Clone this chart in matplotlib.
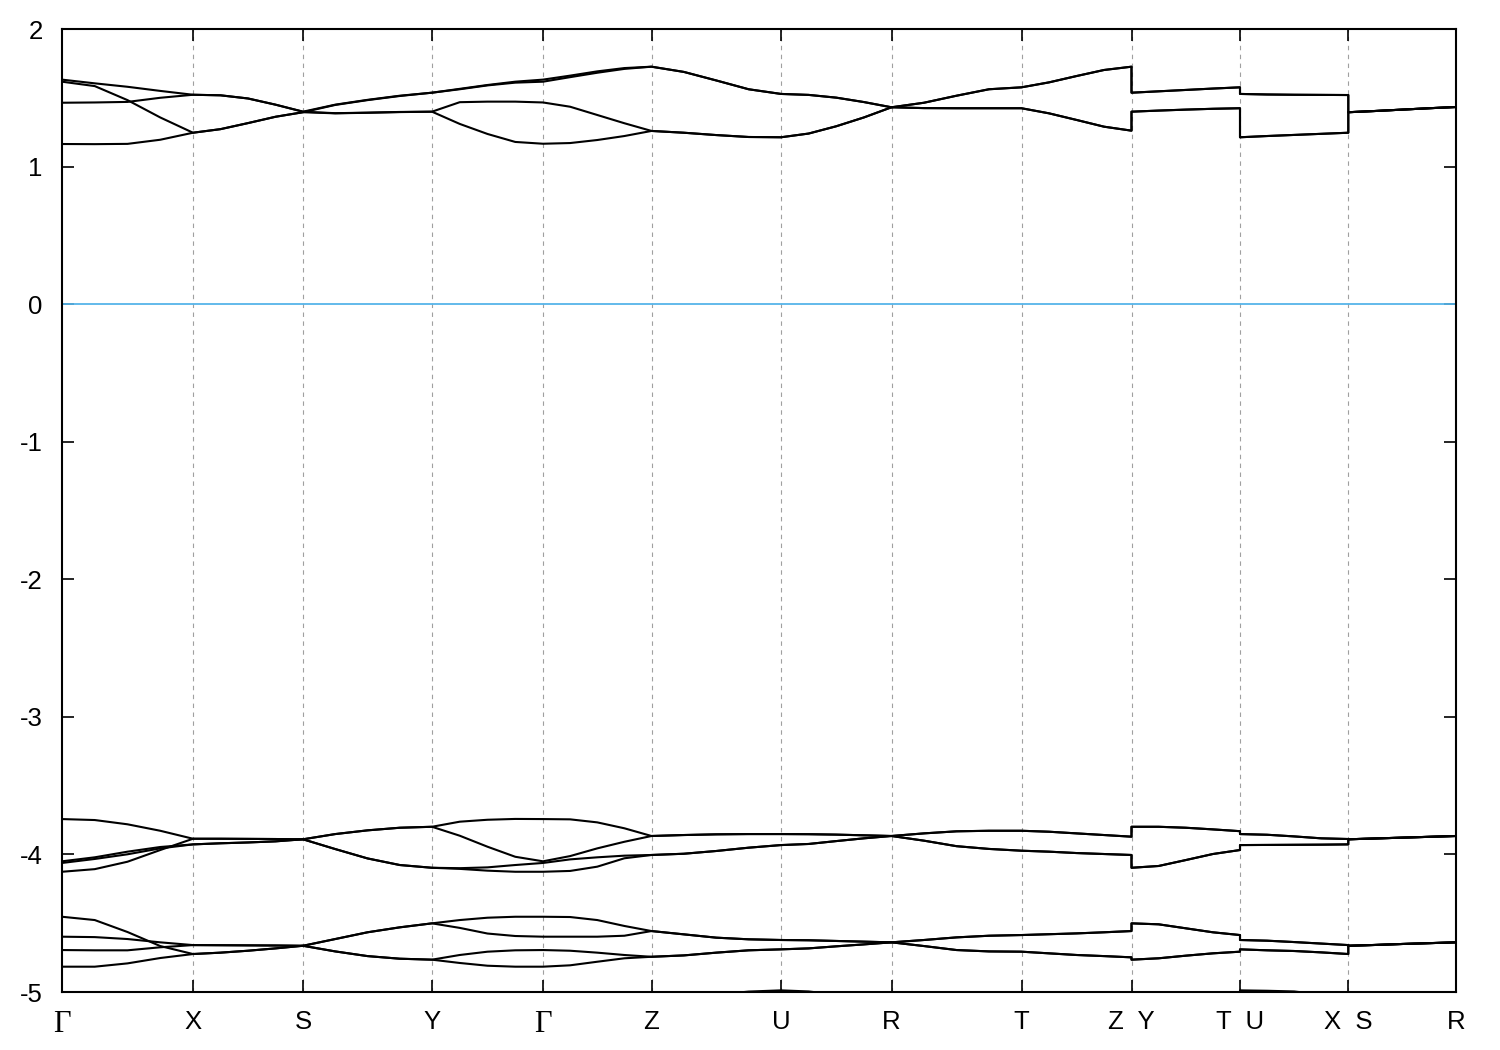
import numpy as np
import matplotlib
matplotlib.use("Agg")
import matplotlib.pyplot as plt

# ---- high-symmetry path (k-distance units) ----
tick_pos = [0, 131, 241, 370, 481, 589.5, 719, 829.5, 959.5, 1069.5, 1178, 1286.3, 1394]
tick_lab = ["Γ", "X", "S", "Y", "Γ", "Z", "U", "R", "T", "Z  Y", "T  U", "X  S", "R"]
# segments drawn (start, end); continuous=False means a path jump before it
segments = [(0, 131, True), (131, 241, True), (241, 370, True), (370, 481, True),
            (481, 589.5, True), (589.5, 719, True), (719, 829.5, True),
            (829.5, 959.5, True), (959.5, 1069.5, True),
            (1069.5, 1178, False), (1178, 1286.3, False), (1286.3, 1394, False)]

# ---- band energies (eV), sampled at 0, 1/4, 1/2, 3/4, 1 of each segment ----
# upper group
uA = [1.632, 1.605, 1.580, 1.550, 1.522, 1.518, 1.495, 1.450, 1.399,
      1.450, 1.485, 1.515, 1.537, 1.565, 1.593, 1.617, 1.632,
      1.661, 1.692, 1.716, 1.726, 1.688, 1.626, 1.562, 1.528,
      1.521, 1.501, 1.469, 1.431, 1.464, 1.515, 1.562, 1.576,
      1.612, 1.658, 1.702, 1.726,
      1.537, 1.547, 1.557, 1.567, 1.576,
      1.528, 1.524, 1.522, 1.521, 1.520,
      1.395, 1.404, 1.414, 1.424, 1.433]
uB = [1.617, 1.585, 1.483, 1.357, 1.246, 1.272, 1.316, 1.362, 1.395,
      1.448, 1.483, 1.513, 1.537, 1.562, 1.590, 1.610, 1.617,
      1.650, 1.682, 1.710, 1.726, 1.688, 1.626, 1.562, 1.528,
      1.521, 1.501, 1.469, 1.431, 1.464, 1.515, 1.562, 1.576,
      1.612, 1.658, 1.702, 1.726,
      1.537, 1.547, 1.557, 1.567, 1.576,
      1.528, 1.524, 1.522, 1.521, 1.520,
      1.395, 1.404, 1.414, 1.424, 1.433]
uC = [1.464, 1.466, 1.470, 1.500, 1.522, 1.518, 1.495, 1.450, 1.399,
      1.388, 1.392, 1.397, 1.399, 1.468, 1.472, 1.472, 1.466,
      1.435, 1.375, 1.315, 1.259, 1.246, 1.229, 1.215, 1.213,
      1.240, 1.293, 1.357, 1.431, 1.425, 1.424, 1.424, 1.424,
      1.387, 1.339, 1.290, 1.261,
      1.399, 1.407, 1.414, 1.420, 1.424,
      1.213, 1.222, 1.230, 1.238, 1.246,
      1.395, 1.404, 1.414, 1.424, 1.433]
uD = [1.164, 1.163, 1.165, 1.195, 1.246, 1.272, 1.316, 1.362, 1.395,
      1.387, 1.391, 1.396, 1.399, 1.310, 1.237, 1.179, 1.166,
      1.171, 1.193, 1.222, 1.259, 1.246, 1.229, 1.215, 1.213,
      1.240, 1.293, 1.357, 1.431, 1.425, 1.424, 1.424, 1.424,
      1.387, 1.339, 1.290, 1.261,
      1.399, 1.407, 1.414, 1.420, 1.424,
      1.213, 1.222, 1.230, 1.238, 1.246,
      1.395, 1.404, 1.414, 1.424, 1.433]
# middle group
mA = [-3.743, -3.750, -3.781, -3.828, -3.886, -3.886, -3.887, -3.888, -3.890,
      -3.852, -3.825, -3.806, -3.799, -3.762, -3.748, -3.742, -3.743,
      -3.745, -3.767, -3.810, -3.866, -3.859, -3.854, -3.852, -3.852,
      -3.853, -3.856, -3.861, -3.866, -3.847, -3.832, -3.828, -3.828,
      -3.835, -3.847, -3.859, -3.871,
      -3.799, -3.799, -3.806, -3.818, -3.831,
      -3.852, -3.857, -3.869, -3.883, -3.888,
      -3.890, -3.884, -3.878, -3.872, -3.866]
mB = [-4.050, -4.021, -3.980, -3.946, -3.927, -3.919, -3.913, -3.905, -3.890,
      -3.852, -3.825, -3.806, -3.799, -3.864, -3.944, -4.017, -4.050,
      -4.012, -3.956, -3.908, -3.866, -3.859, -3.854, -3.852, -3.852,
      -3.853, -3.856, -3.861, -3.866, -3.847, -3.832, -3.828, -3.828,
      -3.835, -3.847, -3.859, -3.871,
      -3.799, -3.799, -3.806, -3.818, -3.831,
      -3.852, -3.857, -3.869, -3.883, -3.888,
      -3.890, -3.884, -3.878, -3.872, -3.866]
mC = [-4.062, -4.033, -3.999, -3.956, -3.927, -3.919, -3.913, -3.905, -3.890,
      -3.961, -4.029, -4.077, -4.097, -4.100, -4.094, -4.077, -4.062,
      -4.036, -4.021, -4.009, -4.004, -3.995, -3.975, -3.951, -3.932,
      -3.924, -3.903, -3.883, -3.866, -3.900, -3.940, -3.960, -3.973,
      -3.980, -3.990, -3.997, -4.004,
      -4.097, -4.084, -4.041, -3.997, -3.968,
      -3.932, -3.931, -3.930, -3.929, -3.927,
      -3.890, -3.884, -3.878, -3.872, -3.866]
mD = [-4.126, -4.107, -4.053, -3.968, -3.886, -3.886, -3.887, -3.888, -3.890,
      -3.961, -4.029, -4.077, -4.097, -4.105, -4.118, -4.126, -4.126,
      -4.120, -4.089, -4.028, -4.004, -3.995, -3.975, -3.951, -3.932,
      -3.924, -3.903, -3.883, -3.866, -3.900, -3.940, -3.960, -3.973,
      -3.980, -3.990, -3.997, -4.004,
      -4.097, -4.084, -4.041, -3.997, -3.968,
      -3.932, -3.931, -3.930, -3.929, -3.927,
      -3.890, -3.884, -3.878, -3.872, -3.866]
# lower group
lA = [-4.453, -4.477, -4.564, -4.666, -4.724, -4.714, -4.700, -4.683, -4.664,
      -4.615, -4.566, -4.530, -4.501, -4.477, -4.460, -4.453, -4.453,
      -4.455, -4.477, -4.520, -4.557, -4.581, -4.605, -4.617, -4.622,
      -4.624, -4.629, -4.634, -4.639, -4.622, -4.603, -4.591, -4.586,
      -4.580, -4.574, -4.566, -4.557,
      -4.501, -4.508, -4.537, -4.566, -4.586,
      -4.622, -4.627, -4.637, -4.648, -4.659,
      -4.664, -4.658, -4.651, -4.645, -4.639]
lB = [-4.598, -4.601, -4.615, -4.639, -4.659, -4.660, -4.661, -4.662, -4.664,
      -4.615, -4.566, -4.530, -4.501, -4.534, -4.575, -4.593, -4.598,
      -4.598, -4.598, -4.591, -4.557, -4.581, -4.605, -4.617, -4.622,
      -4.624, -4.629, -4.634, -4.639, -4.622, -4.603, -4.591, -4.586,
      -4.580, -4.574, -4.566, -4.557,
      -4.501, -4.508, -4.537, -4.566, -4.586,
      -4.622, -4.627, -4.637, -4.648, -4.659,
      -4.664, -4.658, -4.651, -4.645, -4.639]
lC = [-4.695, -4.697, -4.697, -4.675, -4.659, -4.660, -4.661, -4.662, -4.664,
      -4.705, -4.739, -4.758, -4.765, -4.731, -4.707, -4.697, -4.695,
      -4.700, -4.714, -4.731, -4.744, -4.734, -4.714, -4.697, -4.690,
      -4.683, -4.668, -4.654, -4.639, -4.666, -4.695, -4.705, -4.707,
      -4.719, -4.731, -4.739, -4.748,
      -4.765, -4.755, -4.736, -4.719, -4.707,
      -4.690, -4.697, -4.702, -4.712, -4.724,
      -4.664, -4.658, -4.651, -4.645, -4.639]
lD = [-4.816, -4.816, -4.792, -4.753, -4.724, -4.714, -4.700, -4.683, -4.664,
      -4.705, -4.739, -4.758, -4.765, -4.789, -4.809, -4.816, -4.816,
      -4.806, -4.780, -4.755, -4.744, -4.734, -4.714, -4.697, -4.690,
      -4.683, -4.668, -4.654, -4.639, -4.666, -4.695, -4.705, -4.707,
      -4.719, -4.731, -4.739, -4.748,
      -4.765, -4.755, -4.736, -4.719, -4.707,
      -4.690, -4.697, -4.702, -4.712, -4.724,
      -4.664, -4.658, -4.651, -4.645, -4.639]
# deep band, only its top peeks above -5 near U
dA = [-5.20, -5.20, -5.20, -5.20, -5.20, -5.20, -5.20, -5.20, -5.20,
      -5.20, -5.20, -5.20, -5.20, -5.20, -5.20, -5.20, -5.20,
      -5.20, -5.20, -5.15, -5.10, -5.06, -5.02, -4.997, -4.988,
      -4.996, -5.02, -5.06, -5.10, -5.15, -5.20, -5.20, -5.20,
      -5.20, -5.20, -5.20, -5.20,
      -5.20, -5.20, -5.20, -5.20, -5.20,
      -4.988, -4.991, -4.996, -5.02, -5.05,
      -5.10, -5.15, -5.20, -5.20, -5.20]

bands = [uA, uB, uC, uD, mA, mB, mC, mD, lA, lB, lC, lD, dA]

# k sample positions: quarter points along each segment
k = []
for a, b, cont in segments:
    pts = list(np.linspace(a, b, 5))
    if cont and k:
        pts = pts[1:]
    k.extend(pts)
k = np.array(k)

plt.rcParams['font.family'] = ['Liberation Sans', 'DejaVu Sans']

fig = plt.figure(figsize=(15, 10.5), dpi=100)
ax = fig.add_axes([62 / 1500, 1 - 992 / 1050, (1456 - 62) / 1500, (992 - 29) / 1050])

for t in tick_pos[1:-1]:
    ax.axvline(t, color='#a0a0a0', lw=0.8, dashes=(4, 4), zorder=1)

ax.axhline(0, color='#56b4e9', lw=1.3, zorder=2)

for b in bands:
    ax.plot(k, b, color='black', lw=1.5, zorder=3, solid_joinstyle='round')

ax.set_xlim(tick_pos[0], tick_pos[-1])
ax.set_ylim(-5, 2)
ax.set_yticks(range(-5, 3))
ax.set_yticklabels([str(v) for v in range(-5, 3)])
ax.set_xticks(tick_pos)
ax.set_xticklabels(tick_lab)
ax.tick_params(axis='both', direction='in', length=8.5, width=1.2, labelsize=18.5,
               colors='black')
ax.tick_params(axis='y', right=True, pad=14)
ax.tick_params(axis='x', top=True, pad=13)
for lab in ax.get_xticklabels():
    if lab.get_text() == "Γ":
        lab.set_family(['Liberation Serif', 'DejaVu Serif'])
        lab.set_fontsize(22)
for s in ax.spines.values():
    s.set_linewidth(1.5)

fig.savefig('out.png', dpi=100)
